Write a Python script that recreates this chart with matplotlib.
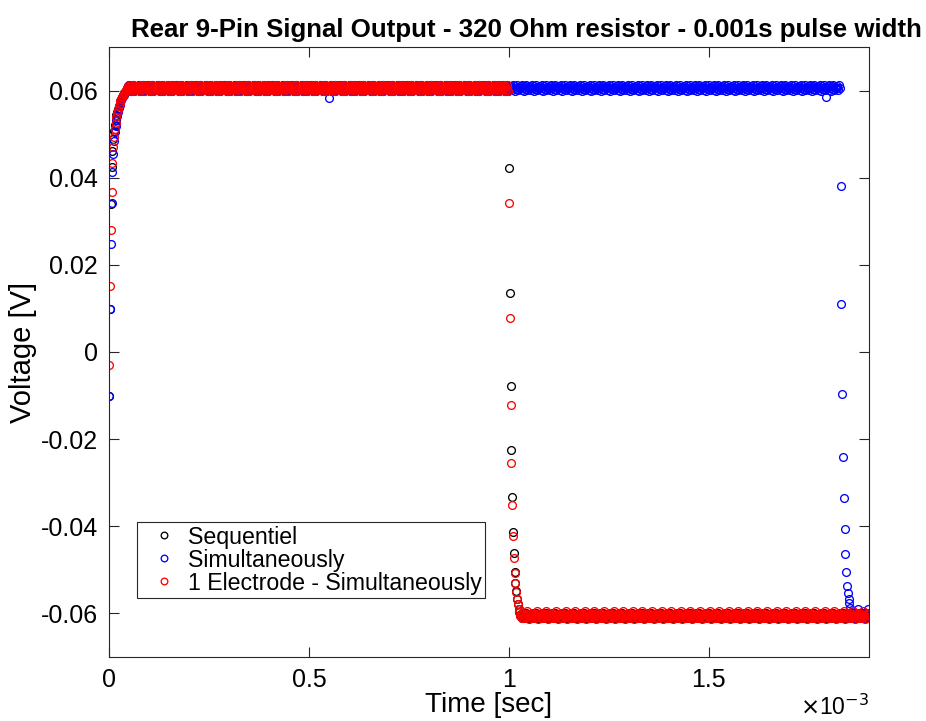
import matplotlib
matplotlib.use("Agg")
import matplotlib.pyplot as plt
import numpy as np

plt.rcParams['font.family'] = ['Liberation Sans', 'DejaVu Sans']

# sample interval of the scope trace (s)
dt = 2e-6
n_samples = 951          # 0 .. 1.9 ms

# ---- Sequentiel (black) ----
seq_rise = [-0.0101, 0.0098, 0.0340, 0.0425, 0.0462, 0.0490, 0.0508, 0.0522,
            0.0534, 0.0544, 0.0552, 0.0559, 0.0566, 0.0572, 0.0577, 0.0582,
            0.0586, 0.0590, 0.0593, 0.0596, 0.0598, 0.0600]
seq_high = [0.0605, 0.0610, 0.0602, 0.0613, 0.0606, 0.0599, 0.0611, 0.0604,
            0.0614, 0.0600, 0.0608, 0.0605]
seq_fall = [0.0422, 0.0135, -0.0079, -0.0225, -0.0334, -0.0414, -0.0461,
            -0.0506, -0.0530, -0.0550, -0.0567, -0.0580, -0.0590, -0.0597]
seq_low = [-0.0605, -0.0601, -0.0610, -0.0606, -0.0599, -0.0611, -0.0603,
           -0.0608, -0.0600, -0.0612, -0.0604, -0.0607]
seq_fall_start = 500     # sample index of 1.000 ms

# ---- Simultaneously (blue) ----
sim_rise = [-0.0101, 0.0098, 0.0248, 0.0342, 0.0413, 0.0455, 0.0485, 0.0505,
            0.0520, 0.0533, 0.0543, 0.0552, 0.0560, 0.0567, 0.0573, 0.0578,
            0.0583, 0.0587, 0.0591, 0.0594, 0.0597, 0.0600]
sim_high = [0.0606, 0.0611, 0.0603, 0.0613, 0.0607, 0.0600, 0.0612, 0.0604,
            0.0614, 0.0601, 0.0609, 0.0606]
sim_fall = [0.0382, 0.0110, -0.0097, -0.0241, -0.0336, -0.0407, -0.0464,
            -0.0505, -0.0537, -0.0553, -0.0567, -0.0577, -0.0587, -0.0597]
sim_low = [-0.0606, -0.0602, -0.0610, -0.0605, -0.0600, -0.0609, -0.0603,
           -0.0608, -0.0591, -0.0611, -0.0604, -0.0607]
sim_fall_start = 915     # sample index of 1.830 ms
# isolated low readings on the blue high level: (sample index, value)
sim_dips = [(275, 0.0584), (897, 0.0586)]

# ---- 1 Electrode - Simultaneously (red) ----
one_rise = [-0.0031, 0.0152, 0.0280, 0.0367, 0.0434, 0.0470, 0.0495, 0.0513,
            0.0527, 0.0539, 0.0549, 0.0557, 0.0564, 0.0570, 0.0576, 0.0581,
            0.0585, 0.0589, 0.0593, 0.0596, 0.0598, 0.0601]
one_high = [0.0607, 0.0602, 0.0612, 0.0605, 0.0614, 0.0600, 0.0609, 0.0604,
            0.0613, 0.0599, 0.0610, 0.0606]
one_fall = [0.0342, 0.0077, -0.0121, -0.0254, -0.0352, -0.0423, -0.0473,
            -0.0507, -0.0530, -0.0551, -0.0567, -0.0580, -0.0591, -0.0597]
one_low = [-0.0607, -0.0602, -0.0611, -0.0605, -0.0600, -0.0612, -0.0606,
           -0.0603, -0.0609, -0.0596, -0.0604, -0.0613]
one_fall_start = 500

x_ticks = [0, 0.5e-3, 1e-3, 1.5e-3]
x_tick_labels = ['0', '0.5', '1', '1.5']
y_ticks = [-0.06, -0.04, -0.02, 0, 0.02, 0.04, 0.06]
y_tick_labels = ['-0.06', '-0.04', '-0.02', '0', '0.02', '0.04', '0.06']


def build_trace(rise, high, fall, low, fall_start):
    n_high = fall_start - len(rise)
    n_low = n_samples - fall_start - len(fall)
    v = np.concatenate([rise, np.resize(high, n_high), fall, np.resize(low, n_low)])
    t = np.arange(len(v)) * dt
    return t, v


t_seq, v_seq = build_trace(seq_rise, seq_high, seq_fall, seq_low, seq_fall_start)
t_sim, v_sim = build_trace(sim_rise, sim_high, sim_fall, sim_low, sim_fall_start)
for idx, val in sim_dips:
    v_sim[idx] = val
t_one, v_one = build_trace(one_rise, one_high, one_fall, one_low, one_fall_start)

fig = plt.figure(figsize=(9.26, 7.21), dpi=100)
ax = fig.add_axes([0.118, 0.0892, 0.820, 0.8452])

mk = dict(linestyle='none', marker='o', markersize=5.6, markerfacecolor='none',
          markeredgewidth=0.95)
ax.plot(t_seq, v_seq, color='black', label='Sequentiel', **mk)
ax.plot(t_sim, v_sim, color='blue', label='Simultaneously', **mk)
ax.plot(t_one, v_one, color='red', label='1 Electrode - Simultaneously', **mk)

ax.set_xlim(0, 1.9e-3)
ax.set_ylim(-0.07, 0.07)
ax.set_xticks(x_ticks)
ax.set_xticklabels(x_tick_labels)
ax.set_yticks(y_ticks)
ax.set_yticklabels(y_tick_labels)
ax.tick_params(direction='in', length=7, width=0.8, top=True, right=True,
               labelsize=18, pad=8, colors='#262626', labelcolor='black')
for s in ax.spines.values():
    s.set_color('#262626')
    s.set_linewidth(0.8)

ax.set_xlabel('Time [sec]', fontsize=20, labelpad=0)
ax.set_ylabel('Voltage [V]', fontsize=21, labelpad=3)
ax.set_title('Rear 9-Pin Signal Output - 320 Ohm resistor - 0.001s pulse width',
             fontsize=18.6, fontweight='bold', pad=7.4, x=0.549)
ax.text(1.0, -0.062, r'$\times$10$^{-3}$', transform=ax.transAxes,
        ha='right', va='top', fontsize=16.5)

leg = ax.legend(loc='lower left', bbox_to_anchor=(0.0365, 0.0963),
                borderaxespad=0, fontsize=16.7, fancybox=False, framealpha=1,
                edgecolor='#262626', handlelength=2.0, handletextpad=0.05,
                labelspacing=0.0, borderpad=0.15, markerscale=0.85)
leg.get_frame().set_linewidth(0.8)

plt.savefig("out.png", dpi=100)
